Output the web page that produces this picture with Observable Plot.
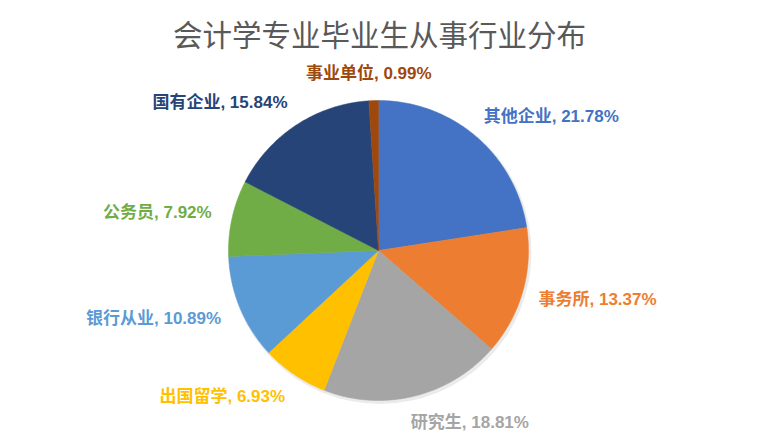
<!DOCTYPE html>
<html>
<head>
<meta charset="utf-8">
<script src="https://cdn.jsdelivr.net/npm/d3@7"></script>
<script src="https://cdn.jsdelivr.net/npm/@observablehq/plot@0.6"></script>
<style>
  html, body { margin: 0; padding: 0; background: #fff; }
  #title { width: 759px; height: 50px; margin: 0; text-align: center; font-family: "Noto Sans CJK SC", "Liberation Sans", sans-serif; font-size: 29.5px; font-weight: normal; color: #595959; line-height: 66px; overflow: visible; }
</style>
</head>
<body>
<div id="title">会计学专业毕业生从事行业分布</div>
<div id="chart"></div>
<script>
const categories = ["其他企业", "事务所", "研究生", "出国留学", "银行从业", "公务员", "国有企业", "事业单位"];
const values = [21.78, 13.37, 18.81, 6.93, 10.89, 7.92, 15.84, 0.99];
const colors = ["#4472C4", "#ED7D31", "#A5A5A5", "#FFC000", "#5B9BD5", "#70AD47", "#264478", "#9E480E"];

const W = 759, H = 392;
const cx = 378, cy = 200, r = 150, rl = 177;

const arcs = d3.pie().sort(null).value(d => d)(values);

const marks = [];
// soft shadow behind the pie
marks.push(Plot.dot([{x: cx + 1.5, y: cy + 2}], {x: "x", y: "y", r: r + 1.5, fill: "#000", fillOpacity: 0.08}));
// slices as filled polygons built from pie angles
arcs.forEach((a, i) => {
  const pts = [{x: cx, y: cy}];
  const n = Math.max(2, Math.ceil((a.endAngle - a.startAngle) / 0.01));
  for (let k = 0; k <= n; k++) {
    const t = a.startAngle + (a.endAngle - a.startAngle) * k / n;
    pts.push({x: cx + r * Math.sin(t), y: cy - r * Math.cos(t)});
  }
  pts.push({x: cx, y: cy});
  marks.push(Plot.line(pts, {x: "x", y: "y", fill: colors[i], stroke: colors[i], strokeWidth: 0.5}));
});

// labels
const labels = arcs.map((a, i) => {
  const m = (a.startAngle + a.endAngle) / 2;
  const s = Math.sin(m);
  return {
    text: `${categories[i]}, ${values[i].toFixed(2)}%`,
    x: cx + rl * s,
    y: cy - rl * Math.cos(m),
    color: colors[i],
    anchor: s > 0.1 ? "start" : (s < -0.1 ? "end" : "middle")
  };
});
for (const anchor of ["start", "end", "middle"]) {
  marks.push(Plot.text(labels.filter(d => d.anchor === anchor), {
    x: "x", y: "y", text: "text", fill: "color",
    textAnchor: anchor,
    dx: anchor === "start" ? -10 : (anchor === "end" ? 6 : -4),
    fontSize: 17, fontWeight: "bold",
    fontFamily: "'Liberation Sans', 'Noto Sans CJK SC', sans-serif"
  }));
}

const chart = Plot.plot({
  width: W, height: H,
  margin: 0,
  x: {type: "linear", domain: [0, W], range: [0, W], axis: null},
  y: {type: "linear", domain: [0, H], range: [0, H], axis: null},
  color: {type: "identity"},
  marks
});
document.getElementById("chart").appendChild(chart);
</script>
</body>
</html>
